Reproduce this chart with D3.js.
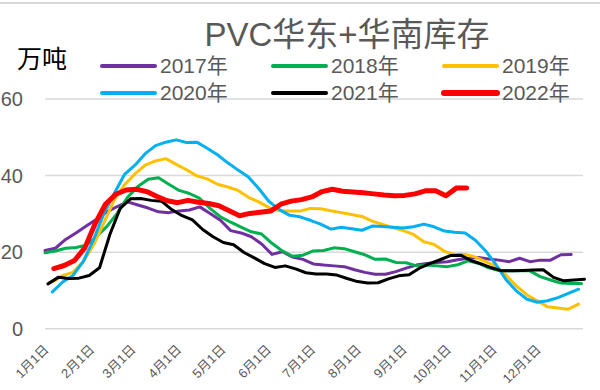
<!DOCTYPE html>
<html><head><meta charset="utf-8">
<script src="https://cdn.jsdelivr.net/npm/d3@7"></script>
<style>
html,body{margin:0;padding:0;background:#fff;}
svg{display:block;}
</style></head>
<body>
<svg id="chart" width="600" height="390"></svg>
<script>
// ---------- data ----------
const title = "PVC华东+华南库存";
const unitLabel = "万吨";
const years = ["2017年","2018年","2019年","2020年","2021年","2022年"];
const colors = ["#7030A0","#00B050","#FFC000","#00B0F0","#000000","#FF0000"];
// day-of-year of the first weekly observation of each series
const startDays = [0, 0, 5, 5, 2, 6];
const yTicks = [0, 20, 40, 60];
const monthLabels = ["1月1日","2月1日","3月1日","4月1日","5月1日","6月1日","7月1日","8月1日","9月1日","10月1日","11月1日","12月1日"];
const monthDays = [0,31,59,90,120,151,181,212,243,273,304,334];

const v2017 = [20.3,20.9,23.2,24.9,26.7,28.5,30.4,31.8,33.0,32.2,31.4,30.4,30.2,30.6,30.9,31.7,30.0,28.2,25.5,24.9,23.9,22.0,19.3,20.0,18.6,18.0,16.8,16.5,16.3,16.1,15.3,14.6,14.1,14.1,14.8,15.7,16.5,16.9,17.2,17.4,17.9,18.3,18.5,18.1,17.8,17.4,18.3,17.4,17.8,17.8,19.2,19.3];
const v2018 = [19.7,20.2,20.9,21.1,21.7,24.0,26.6,30.0,34.2,37.0,38.9,39.3,37.6,36.0,35.2,33.9,31.3,29.1,27.7,26.4,25.2,24.6,22.2,20.2,18.8,19.1,20.2,20.3,21.0,20.8,20.0,19.2,18.0,18.1,17.2,17.1,16.3,16.5,16.3,16.1,16.6,17.6,17.0,15.8,15.1,15.0,15.0,15.0,13.5,12.6,11.8,11.7,11.7];
const v2019 = [12.1,13.8,14.6,17.4,21.8,27.6,33.5,37.5,40.3,42.6,43.7,44.3,42.8,41.4,39.8,39.0,37.6,36.9,36.0,34.2,33.0,31.5,30.7,30.6,30.6,31.3,31.2,30.7,30.2,29.7,29.2,28.0,27.1,26.3,25.5,24.5,22.6,21.9,20.1,19.2,19.3,18.6,17.4,16.2,13.8,11.0,8.7,7.2,5.6,5.3,5.0,6.3];
const v2020 = [9.5,12.1,13.8,17.5,23.2,30.0,35.2,40.2,42.6,45.6,47.7,48.6,49.2,48.5,48.6,47.0,45.3,43.2,41.3,39.5,36.5,33.1,31.0,29.5,29.1,28.2,27.2,25.9,26.4,26.0,25.6,26.7,26.6,26.4,26.2,26.5,27.2,26.5,25.4,25.1,24.9,23.0,20.2,16.6,12.6,9.7,7.6,6.8,7.2,8.0,9.1,10.2];
const v2021 = [11.6,13.3,13.0,13.1,13.8,15.8,24.5,31.3,33.8,33.9,33.4,33.2,31.0,29.4,28.3,25.8,23.9,22.4,21.8,19.8,18.4,16.9,15.9,16.3,15.5,14.5,14.2,14.2,13.9,13.0,12.2,11.8,11.9,12.9,13.7,14.0,15.7,16.9,17.9,19.0,19.1,17.7,16.8,15.8,15.0,15.0,15.1,15.2,15.3,13.3,12.4,12.6,12.8];
const v2022 = [15.6,16.4,17.7,21.0,27.3,32.4,35.0,36.1,36.3,35.7,34.4,33.3,32.8,33.4,32.9,32.6,32.0,30.7,29.4,30.0,30.3,30.6,32.4,33.2,33.6,34.3,35.7,36.3,35.8,35.6,35.4,35.1,34.8,34.6,34.7,35.1,35.9,35.9,34.6,36.6,36.6];
const seriesValues = [v2017, v2018, v2019, v2020, v2021, v2022];

// ---------- chart ----------
const svg = d3.select("#chart");
const textColor = "#595959";
const cjk = "'Liberation Sans','Noto Sans CJK SC',sans-serif";

const x = d3.scaleLinear().domain([0, 365]).range([45, 583]);
const y = d3.scaleLinear().domain([0, 60]).range([328.3, 98.5]);

// top border
svg.append("line").attr("x1",0).attr("x2",600).attr("y1",3).attr("y2",3)
  .attr("stroke","#d9d9d9").attr("stroke-width",2);

// gridlines + y labels
const yAxis = d3.axisLeft(y).tickValues(yTicks).tickSize(-(583-45)).tickPadding(22).tickFormat(d3.format("d"));
const gy = svg.append("g").attr("transform","translate(45,0)").call(yAxis);
gy.select(".domain").remove();
gy.selectAll(".tick line").attr("stroke","#d9d9d9").attr("stroke-width",1.5);
gy.selectAll(".tick text").attr("fill",textColor).attr("font-size",20)
  .attr("font-family",cjk).attr("dy","0.35em");

// x axis labels
const xAxis = d3.axisBottom(x).tickValues(monthDays).tickSize(0)
  .tickFormat((d,i)=>monthLabels[i]);
const gx = svg.append("g").attr("transform","translate(0,328.3)").call(xAxis);
gx.select(".domain").remove();
gx.selectAll(".tick text")
  .attr("fill",textColor).attr("font-size",13).attr("font-family",cjk)
  .attr("text-anchor","end").attr("dy",null).attr("y",0)
  .attr("transform","translate(4,22) rotate(-45)");

// lines
const line = d3.line().x(d=>x(d.day)).y(d=>y(d.v));
seriesValues.forEach((vals,i)=>{
  const pts = vals.map((v,k)=>({day:startDays[i]+7*k, v}));
  svg.append("path").datum(pts).attr("d",line)
    .attr("fill","none").attr("stroke",colors[i])
    .attr("stroke-width", i===5 ? 5 : 3)
    .attr("stroke-linejoin","round").attr("stroke-linecap","round");
});

// title
svg.append("text").text(title).attr("x",347).attr("y",46)
  .attr("text-anchor","middle").attr("fill",textColor)
  .attr("font-size",33).attr("font-family",cjk);

// unit
svg.append("text").text(unitLabel).attr("x",17).attr("y",68)
  .attr("fill","#000").attr("font-size",25).attr("font-family","'Noto Sans CJK SC',sans-serif");

// legend
const legX = [102, 273, 444];
const legY = [66, 93];
years.forEach((name,i)=>{
  const cx = legX[i%3], cy = legY[Math.floor(i/3)];
  svg.append("line").attr("x1",cx).attr("x2",cx+53).attr("y1",cy).attr("y2",cy)
    .attr("stroke",colors[i]).attr("stroke-width", i===5 ? 6 : 4)
    .attr("stroke-linecap","round");
  svg.append("text").text(name).attr("x",cx+58).attr("y",cy+7)
    .attr("fill",textColor).attr("font-size",21).attr("font-family",cjk);
});
</script>
</body></html>
